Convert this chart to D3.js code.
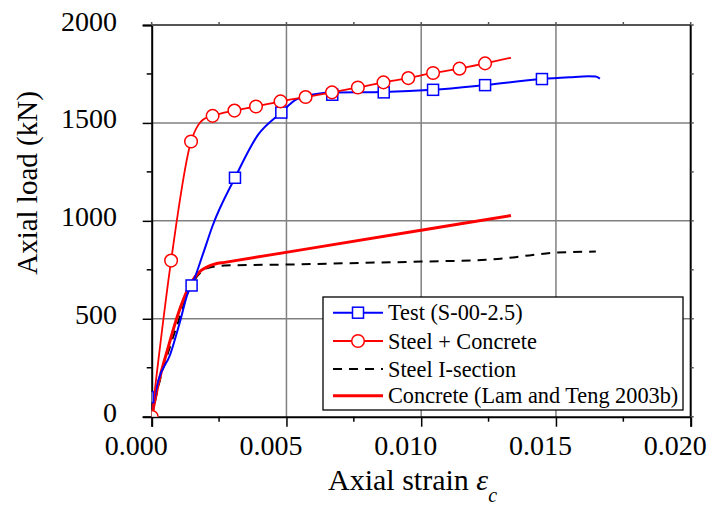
<!DOCTYPE html>
<html>
<head>
<meta charset="utf-8">
<script src="https://cdn.jsdelivr.net/npm/d3@7"></script>
<style>
  body { margin: 0; background: #fff; }
  svg { display: block; }
</style>
</head>
<body>
<script>
// Test (S-00-2.5) curve + markers
const testStrain = [0.00002, 0.00025, 0.00068, 0.00105, 0.00136, 0.00148, 0.0019, 0.00226, 0.00309, 0.00395, 0.00478, 0.00537, 0.00623, 0.0067, 0.00861, 0.01044, 0.01237, 0.01448, 0.0155, 0.0162, 0.01648, 0.01663];
const testLoad   = [40, 187, 315, 485, 639, 670, 830, 975, 1220, 1440, 1550, 1620, 1650, 1655, 1658, 1669, 1693, 1724, 1733, 1738, 1737, 1726];
const testMarkStrain = [-0.00015, 0.00148, 0.00309, 0.00481, 0.0067, 0.00861, 0.01044, 0.01237, 0.01448];
const testMarkLoad   = [100, 670, 1220, 1553, 1644, 1656, 1669, 1693, 1724];

// Steel + Concrete
const scStrain = [0, 0.00072, 0.00146, 0.00173, 0.0019, 0.00226, 0.00307, 0.00387, 0.00478, 0.00571, 0.00669, 0.00765, 0.0086, 0.00952, 0.01044, 0.01142, 0.01237, 0.01333];
const scLoad   = [0, 797, 1405, 1490, 1516, 1536, 1563, 1584, 1610, 1632, 1656, 1681, 1707, 1729, 1755, 1777, 1804, 1833];
const scMarkStrain = [0, 0.00072, 0.00146, 0.00226, 0.00307, 0.00387, 0.00478, 0.00571, 0.00669, 0.00765, 0.0086, 0.00952, 0.01044, 0.01142, 0.01237];
const scMarkLoad   = [0, 797, 1405, 1536, 1563, 1584, 1610, 1632, 1656, 1681, 1707, 1729, 1755, 1777, 1804];

// Steel I-section
const steelStrain = [0, 0.00031, 0.00068, 0.00105, 0.00136, 0.00179, 0.00204, 0.00271, 0.0055, 0.00734, 0.010, 0.0124, 0.0134, 0.01413, 0.015, 0.01648];
const steelLoad   = [0, 190, 358, 511, 639, 733, 758, 772, 778, 784, 792, 801, 813, 826, 838, 843];

// Concrete (Lam and Teng 2003b)
const concStrain = [0, 0.00025, 0.00062, 0.00099, 0.00136, 0.0016, 0.00185, 0.0021, 0.00235, 0.00271, 0.006, 0.010, 0.01333];
const concLoad   = [0, 170, 358, 528, 656, 712, 748, 768, 780, 788, 862, 952, 1027];

const xTicks = [0, 0.005, 0.010, 0.015, 0.020];
const yTicks = [0, 500, 1000, 1500, 2000];
const legendLabels = ["Test (S-00-2.5)", "Steel + Concrete", "Steel I-section", "Concrete (Lam and Teng 2003b)"];

const W = 714, H = 508;
const margin = { left: 151.7, top: 25, right: 714 - 690.7, bottom: 508 - 416.7 };
const iw = W - margin.left - margin.right;
const ih = H - margin.top - margin.bottom;
const font = "'Liberation Serif', 'Times New Roman', serif";

const svg = d3.select("body").append("svg")
    .attr("width", W)
    .attr("height", H)
    .attr("font-family", font);

const x = d3.scaleLinear().domain([0, 0.02]).range([0, iw]);
const y = d3.scaleLinear().domain([0, 2000]).range([ih, 0]);

const g = svg.append("g").attr("transform", `translate(${margin.left},${margin.top})`);

svg.append("defs").append("clipPath").attr("id", "plotclip")
    .append("rect").attr("width", iw).attr("height", ih);

// gridlines
g.append("g").selectAll("line")
    .data(xTicks.slice(1, -1))
    .join("line")
    .attr("x1", d => x(d)).attr("x2", d => x(d))
    .attr("y1", 0).attr("y2", ih)
    .attr("stroke", "#808080").attr("stroke-width", 1.5);
g.append("g").selectAll("line")
    .data(yTicks.slice(1, -1))
    .join("line")
    .attr("y1", d => y(d)).attr("y2", d => y(d))
    .attr("x1", 0).attr("x2", iw)
    .attr("stroke", "#808080").attr("stroke-width", 1.5);

// axes
const xMinor = d3.range(0, 0.02001, 0.0025);
const yMinor = d3.range(0, 2001, 250);

const xAxis = g.append("g").attr("transform", `translate(0,${ih})`)
    .call(d3.axisBottom(x).tickValues(xTicks).tickSize(10).tickFormat(d3.format(".3f")));
xAxis.select(".domain").attr("stroke-width", 2);
xAxis.selectAll(".tick line").attr("stroke-width", 1.5);
xAxis.selectAll(".tick text")
    .attr("font-family", font).attr("font-size", 28).attr("fill", "#000")
    .attr("dx", -16).attr("y", 38).attr("dy", 0);
g.append("g").attr("transform", `translate(0,${ih})`).selectAll("line")
    .data(xMinor.filter((d, i) => i % 2 === 1))
    .join("line")
    .attr("x1", d => x(d)).attr("x2", d => x(d))
    .attr("y1", 0).attr("y2", 5)
    .attr("stroke", "#000").attr("stroke-width", 1.5);

const yAxis = g.append("g")
    .call(d3.axisLeft(y).tickValues(yTicks).tickSize(9).tickFormat(d3.format("d")));
yAxis.select(".domain").attr("stroke-width", 2);
yAxis.selectAll(".tick line").attr("stroke-width", 1.5);
yAxis.selectAll(".tick text")
    .attr("font-family", font).attr("font-size", 28).attr("fill", "#000")
    .attr("x", -34.7).attr("dy", 0).attr("y", 5);
g.append("g").selectAll("line")
    .data(yMinor.filter((d, i) => i % 2 === 1))
    .join("line")
    .attr("y1", d => y(d)).attr("y2", d => y(d))
    .attr("x1", -5).attr("x2", 0)
    .attr("stroke", "#000").attr("stroke-width", 1.5);

// top and right frame with small ticks
g.append("line").attr("x1", 0).attr("x2", iw).attr("y1", 0).attr("y2", 0)
    .attr("stroke", "#555").attr("stroke-width", 2);
g.append("line").attr("x1", iw).attr("x2", iw).attr("y1", 0).attr("y2", ih)
    .attr("stroke", "#000").attr("stroke-width", 2);
g.append("g").selectAll("line")
    .data(xMinor)
    .join("line")
    .attr("x1", d => x(d)).attr("x2", d => x(d))
    .attr("y1", -3).attr("y2", 0)
    .attr("stroke", "#555").attr("stroke-width", 1.5);
g.append("g").selectAll("line")
    .data(yMinor)
    .join("line")
    .attr("y1", d => y(d)).attr("y2", d => y(d))
    .attr("x1", iw).attr("x2", iw + 3)
    .attr("stroke", "#555").attr("stroke-width", 1.5);

// series
const line = d3.line()
    .x(d => x(d[0]))
    .y(d => y(d[1]))
    .curve(d3.curveMonotoneX);

const plot = g.append("g").attr("clip-path", "url(#plotclip)");
const zip = (a, b) => a.map((v, i) => [v, b[i]]);

plot.append("path")
    .datum(zip(steelStrain, steelLoad))
    .attr("d", line)
    .attr("fill", "none").attr("stroke", "#000").attr("stroke-width", 2)
    .attr("stroke-dasharray", "9,7");

plot.append("path")
    .datum(zip(concStrain, concLoad))
    .attr("d", line)
    .attr("fill", "none").attr("stroke", "#ff0000").attr("stroke-width", 3);

plot.append("path")
    .datum(zip(testStrain, testLoad))
    .attr("d", line)
    .attr("fill", "none").attr("stroke", "#0000ff").attr("stroke-width", 2);

plot.append("path")
    .datum(zip(scStrain, scLoad))
    .attr("d", line)
    .attr("fill", "none").attr("stroke", "#ff0000").attr("stroke-width", 1.8);

plot.append("g").selectAll("rect")
    .data(zip(testMarkStrain, testMarkLoad))
    .join("rect")
    .attr("x", d => x(d[0]) - 5.5).attr("y", d => y(d[1]) - 5.5)
    .attr("width", 11).attr("height", 11)
    .attr("fill", "#fff").attr("stroke", "#0000ff").attr("stroke-width", 1.5);

plot.append("g").selectAll("circle")
    .data(zip(scMarkStrain, scMarkLoad))
    .join("circle")
    .attr("cx", d => x(d[0])).attr("cy", d => y(d[1]))
    .attr("r", 6.3)
    .attr("fill", "#fff").attr("stroke", "#ff0000").attr("stroke-width", 1.5);

// axis titles
svg.append("text")
    .attr("transform", "translate(37,183) rotate(-90)")
    .attr("text-anchor", "middle")
    .attr("font-size", 29)
    .text("Axial load (kN)");

const xt = svg.append("text")
    .attr("x", 328).attr("y", 490)
    .attr("font-size", 30);
xt.append("tspan").text("Axial strain ");
xt.append("tspan").attr("font-style", "italic").text("ε");
xt.append("tspan").attr("font-style", "italic").attr("font-size", 20).attr("dy", 12).text("c");

// legend
const lg = svg.append("g");
lg.append("rect")
    .attr("x", 323).attr("y", 297).attr("width", 360).attr("height", 113)
    .attr("fill", "#fff").attr("stroke", "#000").attr("stroke-width", 1.3);

const legStyles = [
    { stroke: "#0000ff", width: 2, dash: null, marker: "square" },
    { stroke: "#ff0000", width: 1.8, dash: null, marker: "circle" },
    { stroke: "#000", width: 2, dash: "9,7", marker: null },
    { stroke: "#ff0000", width: 3, dash: null, marker: null }
];
const rowY = [312.7, 341, 369, 395.7];

legendLabels.forEach((label, i) => {
    const s = legStyles[i];
    const yy = rowY[i];
    lg.append("line")
        .attr("x1", 333).attr("x2", 383).attr("y1", yy).attr("y2", yy)
        .attr("stroke", s.stroke).attr("stroke-width", s.width)
        .attr("stroke-dasharray", s.dash);
    if (s.marker === "square") {
        lg.append("rect").attr("x", 358 - 5.5).attr("y", yy - 5.5)
            .attr("width", 11).attr("height", 11)
            .attr("fill", "#fff").attr("stroke", s.stroke).attr("stroke-width", 1.5);
    } else if (s.marker === "circle") {
        lg.append("circle").attr("cx", 358).attr("cy", yy).attr("r", 6.3)
            .attr("fill", "#fff").attr("stroke", s.stroke).attr("stroke-width", 1.5);
    }
    lg.append("text")
        .attr("x", 388).attr("y", yy + 7.5)
        .attr("font-size", 22.3)
        .text(label);
});
</script>
</body>
</html>
